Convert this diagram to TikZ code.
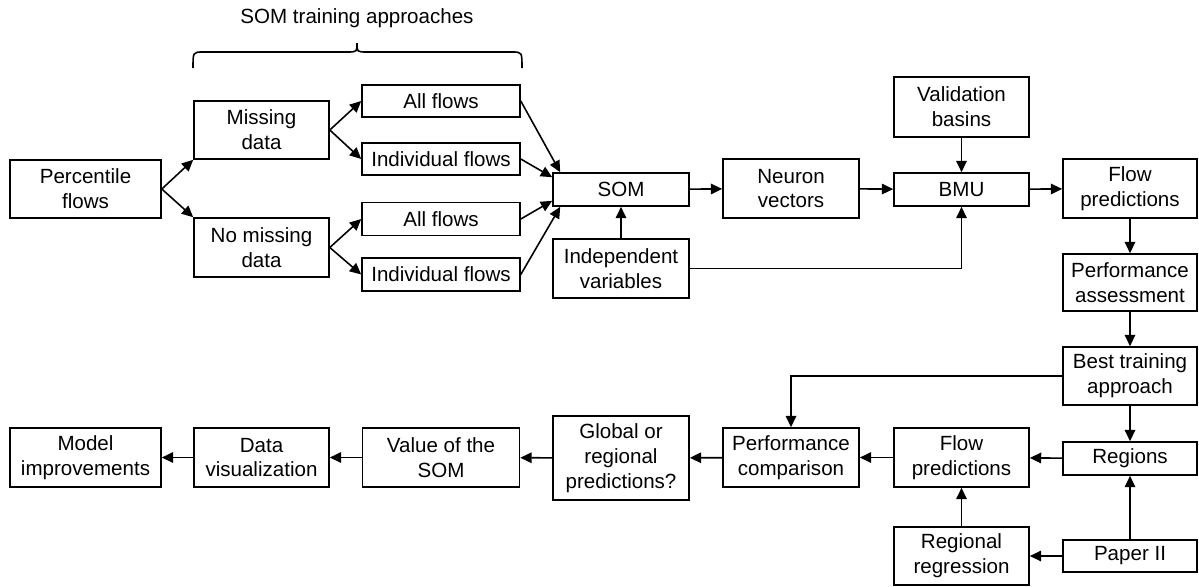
\documentclass[tikz,border=0pt]{standalone}
\usepackage{fontspec}
\setmainfont{Liberation Sans}
\usepackage{tikz}
\usetikzlibrary{arrows.meta, positioning, calc}

\tikzset{
  box/.style={draw, line width=0.9pt, align=center, inner sep=0pt},
  arr/.style={line width=0.9pt, -{Triangle[length=6.5pt, width=6pt]}},
}

\begin{document}
\begin{tikzpicture}[x=0.02cm, y=-0.02cm, font=\fontsize{11.7}{14.2}\selectfont]
\useasboundingbox (0,0) rectangle (1199,586);
% Upper flow
\node[box, minimum width=151*0.02cm, minimum height=58*0.02cm] (perc) at (85.5,189) {Percentile\\flows};
\node[box, minimum width=135*0.02cm, minimum height=58*0.02cm] (miss) at (261.5,130) {Missing\\data};
\node[box, minimum width=135*0.02cm, minimum height=59*0.02cm] (nomiss) at (261.5,247.5) {No missing\\data};
\node[box, minimum width=158*0.02cm, minimum height=32*0.02cm] (allA) at (441,101) {All flows};
\node[box, minimum width=158*0.02cm, minimum height=32*0.02cm] (indA) at (441,159) {Individual flows};
\node[box, minimum width=158*0.02cm, minimum height=33*0.02cm] (allB) at (441,219) {All flows};
\node[box, minimum width=158*0.02cm, minimum height=33*0.02cm] (indB) at (441,274.5) {Individual flows};
\node[box, minimum width=136*0.02cm, minimum height=33*0.02cm] (som) at (621,189.5) {SOM};
\node[box, minimum width=136*0.02cm, minimum height=59*0.02cm] (indep) at (621,268.5) {Independent\\variables};
\node[box, minimum width=136*0.02cm, minimum height=59*0.02cm] (neuron) at (791,188.5) {Neuron\\vectors};
\node[box, minimum width=135*0.02cm, minimum height=33*0.02cm] (bmu) at (961.5,189.5) {BMU};
\node[box, minimum width=135*0.02cm, minimum height=60*0.02cm] (valid) at (961.5,107) {Validation\\basins};
\node[box, minimum width=134*0.02cm, minimum height=59*0.02cm] (flowA) at (1130,188.5) {Flow\\predictions};
\node[box, minimum width=134*0.02cm, minimum height=57*0.02cm] (perfA) at (1130,282.5) {Performance\\assessment};
\node[box, minimum width=134*0.02cm, minimum height=58*0.02cm] (best) at (1130,376) {Best training\\approach};
% Lower flow
\node[box, minimum width=134*0.02cm, minimum height=33*0.02cm] (regions) at (1130,458.5) {Regions};
\node[box, minimum width=134*0.02cm, minimum height=32*0.02cm] (paper) at (1130,556) {Paper II};
\node[box, minimum width=135*0.02cm, minimum height=58*0.02cm] (regreg) at (961.5,556) {Regional\\regression};
\node[box, minimum width=135*0.02cm, minimum height=59*0.02cm] (flowB) at (961.5,457.5) {Flow\\predictions};
\node[box, minimum width=136*0.02cm, minimum height=59*0.02cm] (perfB) at (791,457.5) {Performance\\comparison};
\node[box, minimum width=136*0.02cm, minimum height=84*0.02cm] (glob) at (621,458) {Global or\\regional\\predictions?};
\node[box, minimum width=157*0.02cm, minimum height=59*0.02cm] (value) at (441,457.5) {Value of the\\SOM};
\node[box, minimum width=135*0.02cm, minimum height=59*0.02cm] (dataviz) at (261.5,457.5) {Data\\visualization};
\node[box, minimum width=151*0.02cm, minimum height=59*0.02cm] (model) at (85.5,457.5) {Model\\improvements};
% Brace
\node (approaches) at (357,18) {SOM training approaches};
\draw[line width=0.9pt] (193,68) .. controls (193,52) .. (203,52) -- (347,52)
  .. controls (357,52) .. (357,43) .. controls (357,52) .. (367,52) -- (512,52)
  .. controls (522,52) .. (522,68);
% Arrows
\draw[arr] (perc.east) -- (miss.south west);
\draw[arr] (perc.east) -- (nomiss.north west);
\draw[arr] (miss.east) -- (allA.west);
\draw[arr] (miss.east) -- (indA.west);
\draw[arr] (nomiss.east) -- (allB.west);
\draw[arr] (nomiss.east) -- (indB.west);
\draw[arr] (allA.east) -- ($(som.north west)+(8,0)$);
\draw[arr] (indA.east) -- ($(som.north west)+(0,5)$);
\draw[arr] (allB.east) -- ($(som.south west)+(0,-6)$);
\draw[arr] (indB.east) -- ($(som.south west)+(8,0)$);
\draw[arr] (indep) -- (som);
\draw[arr] (som) -- (neuron);
\draw[arr] (neuron) -- (bmu);
\draw[arr] (valid) -- (bmu);
\draw[arr] (indep.east) -| (bmu.south);
\draw[arr] (bmu) -- (flowA);
\draw[arr] (flowA) -- (perfA);
\draw[arr] (perfA) -- (best);
\draw[arr] (best) -- (regions);
\draw[arr] (best.west) -| (perfB.north);
\draw[arr] (paper) -- (regions);
\draw[arr] (paper) -- (regreg);
\draw[arr] (regreg) -- (flowB);
\draw[arr] (regions) -- (flowB);
\draw[arr] (flowB) -- (perfB);
\draw[arr] (perfB) -- (glob);
\draw[arr] (glob) -- (value);
\draw[arr] (value) -- (dataviz);
\draw[arr] (dataviz) -- (model);
\end{tikzpicture}
\end{document}
